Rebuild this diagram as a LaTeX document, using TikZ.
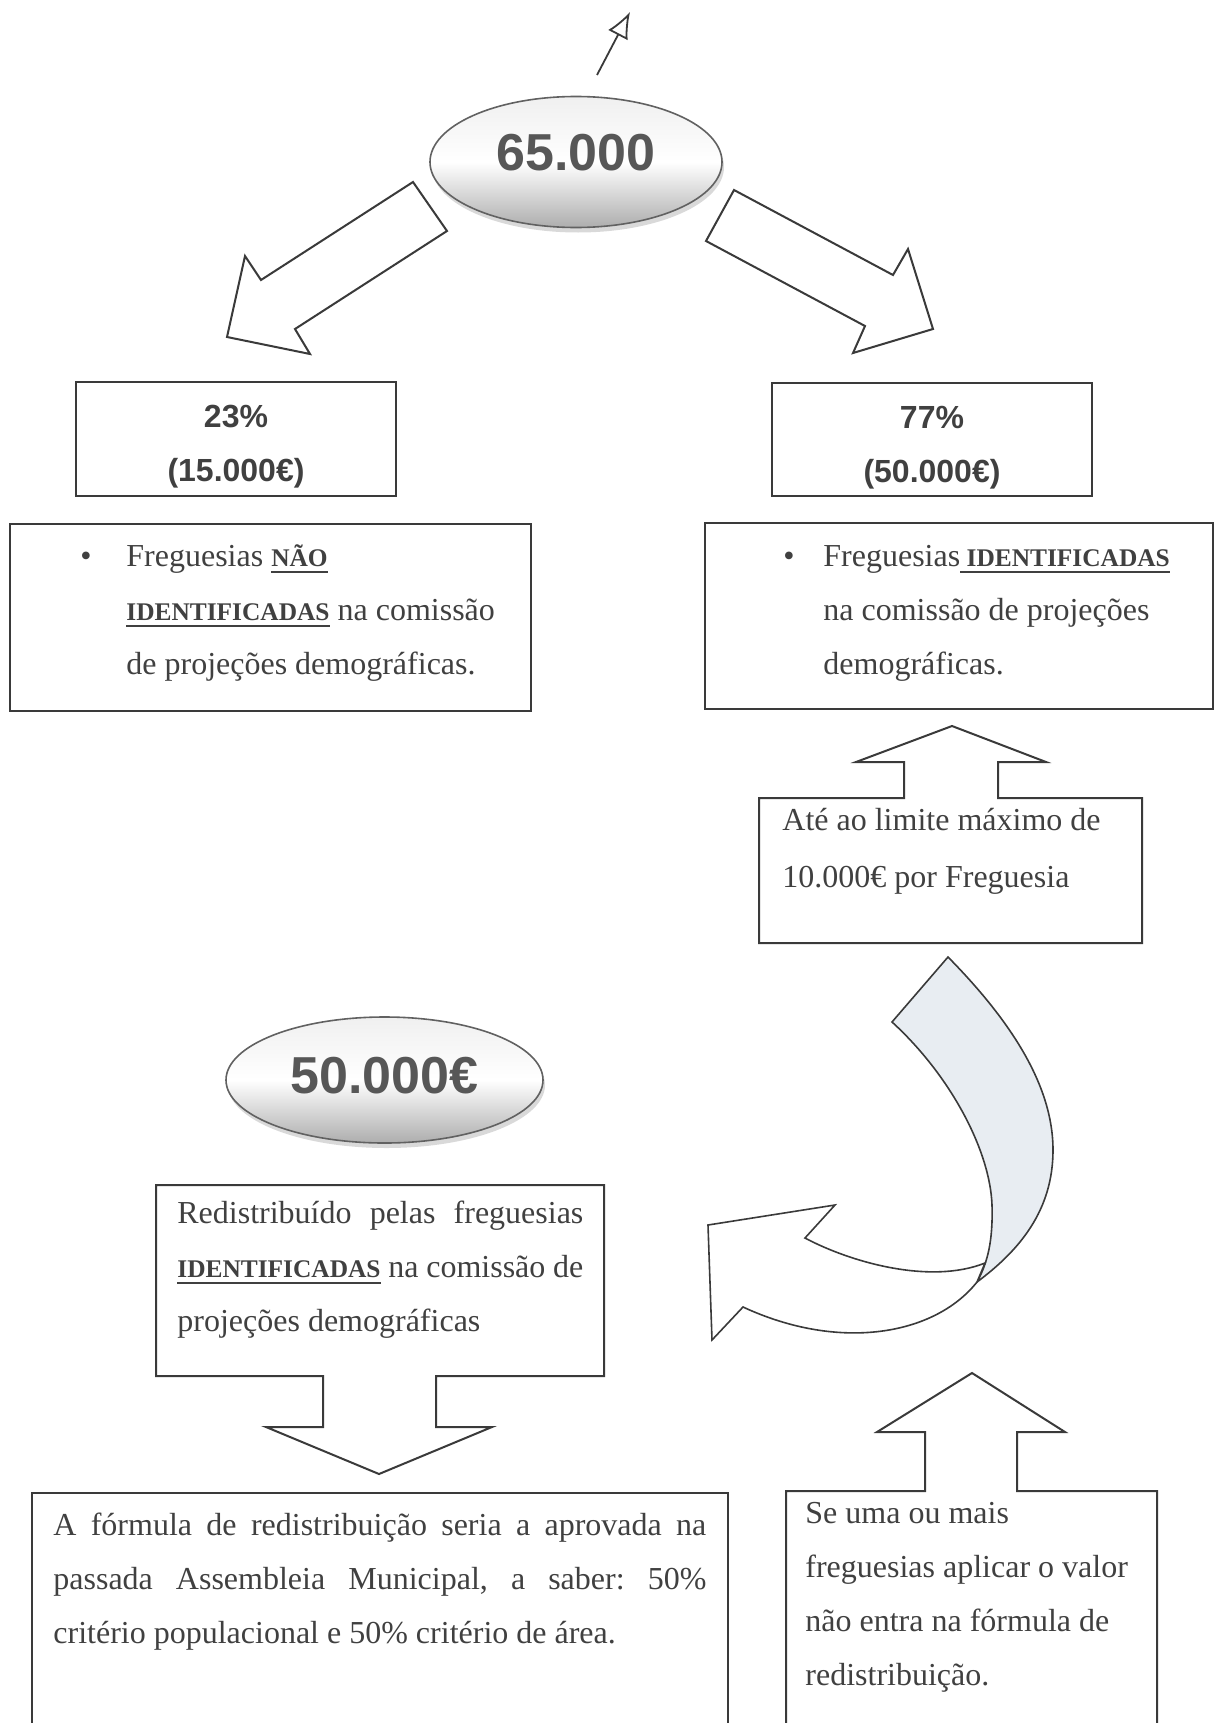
\documentclass[tikz,border=0pt]{standalone}
\usepackage{fontspec}
\setmainfont{Liberation Serif}
\setsansfont{Liberation Sans}
\usetikzlibrary{shapes.geometric,shadows,arrows.meta}

\definecolor{ink}{HTML}{404040}
\definecolor{lineink}{HTML}{3A3A3A}
\definecolor{ovalink}{HTML}{575757}
\definecolor{ribbonfill}{HTML}{E8EDF2}

\newsavebox\kwbox
\newcommand\undl[1]{\leavevmode\sbox\kwbox{#1}\rlap{\rule[-3.5pt]{\wd\kwbox}{1.2pt}}\usebox\kwbox}
\newcommand\keyword[1]{\undl{\fontsize{12.7}{27}\selectfont\bfseries #1}}
\newcommand\firstline{\spaceskip=0pt\xspaceskip=0pt\frenchspacing\strut}

\tikzset{
  shapeline/.style={draw=lineink, line width=1pt, line join=miter},
  panel/.style={draw=lineink, line width=1pt, inner sep=0pt},
  body/.style={anchor=north west, inner sep=0pt, text=ink, align=left, font=\fontsize{16}{27}\selectfont},
  sharebox/.style={panel, align=center, text=ink, font=\sffamily\bfseries\fontsize{16}{27}\selectfont},
  oval/.style={ellipse, draw=lineink!80, line width=0.8pt, inner sep=0pt,
    top color=black!6, bottom color=black!32, middle color=white,
    drop shadow={opacity=0.3, shadow xshift=1pt, shadow yshift=-2.5pt},
    text=ovalink, font=\sffamily\bfseries\fontsize{26}{30}\selectfont},
}

\begin{document}
\begin{tikzpicture}[x=0.5pt, y=-0.5pt]
    \useasboundingbox (0,0) rectangle (1215,1723);

    \coordinate (pen0) at (597,75);
    \coordinate (pen1) at (630,12);
    \draw[lineink, line width=0.9pt, -{Latex[open,length=13pt,width=11pt]}] (pen0) -- (pen1);

    \node[oval, minimum width=146pt, minimum height=65.5pt] (total) at (576,162) {65.000\rule[-10pt]{0pt}{1pt}};

    \draw[shapeline, fill=white] (413,182) -- (447,231) -- (295,329) -- (310,354) -- (227,337) -- (245,256) -- (261,280) -- cycle;
    \draw[shapeline, fill=white] (734,190) -- (893,275) -- (908,249) -- (933,329) -- (853,353) -- (865,326) -- (706,241) -- cycle;

    \node[sharebox, minimum width=160pt, minimum height=57pt] (low) at (236,439) {\strut 23\%\\(15.000€)};
    \node[sharebox, minimum width=160pt, minimum height=56.5pt] (high) at (932,439.5) {\strut 77\%\\(50.000€)};

    \node[panel, minimum width=260.5pt, minimum height=93.5pt] (notid) at (270.5,617.5) {};
    \node[body] (dotl) at (80,528.2) {\firstline•};
    \node[body, text width=200pt] (notidtext) at (126,528.2)
        {\firstline Freguesias \keyword{NÃO}\\\keyword{IDENTIFICADAS} na comissão\\de projeções demográficas.};

    \node[panel, minimum width=254pt, minimum height=93pt] (isid) at (959,616) {};
    \node[body] (dotr) at (783,528.2) {\firstline•};
    \node[body, text width=190pt] (isidtext) at (823,528.2)
        {\firstline Freguesias\keyword{\ IDENTIFICADAS}\\na comissão de projeções\\demográficas.};

    \draw[shapeline] (759,798) -- (904,798) -- (904,762) -- (856,762) -- (952,726) -- (1046,762) -- (998,762) -- (998,798)
        -- (1142,798) -- (1142,943) -- (759,943) -- cycle;
    \node[body, text width=175pt] (cap) at (782,792.2) {\firstline Até ao limite máximo de\\[1.5pt]10.000€ por Freguesia};

    \draw[shapeline, line width=0.8pt, fill=ribbonfill] (892,1022) -- (948,957)
        .. controls (1010,1020) and (1053,1085) .. (1053,1150)
        .. controls (1053,1210) and (1020,1250) .. (977,1282)
        .. controls (988,1262) and (993,1240) .. (992,1205)
        .. controls (990,1150) and (950,1075) .. (892,1022) -- cycle;
    \draw[shapeline, line width=0.8pt, fill=white] (985,1263) -- (977,1282)
        .. controls (935,1335) and (840,1352) .. (743,1307)
        -- (712,1340) -- (708,1225) -- (835,1205) -- (805,1238)
        .. controls (850,1262) and (930,1285) .. (985,1263) -- cycle;

    \node[oval, minimum width=158.5pt, minimum height=63pt] (rest) at (384.5,1080) {50.000€\rule[-5pt]{0pt}{1pt}};

    \draw[shapeline] (156,1185) -- (604,1185) -- (604,1376) -- (436,1376) -- (436,1427) -- (492,1427) -- (379,1474)
        -- (266,1427) -- (323,1427) -- (323,1376) -- (156,1376) -- cycle;
    \node[body, text width=205pt] (redist) at (177,1185.2)
        {\firstline\makebox[203pt][s]{Redistribuído pelas freguesias}\\\makebox[203pt][s]{\keyword{IDENTIFICADAS} na comissão de}\\projeções demográficas};

    \draw[shapeline] (32,1723) -- (32,1493) -- (728,1493) -- (728,1723);
    \node[body, text width=330pt] (formula) at (53,1497.2)
        {\firstline\makebox[326.5pt][s]{A fórmula de redistribuição seria a aprovada na}\\\makebox[326.5pt][s]{passada Assembleia Municipal, a saber: 50\%}\\critério populacional e 50\% critério de área.};

    \draw[shapeline] (786,1723) -- (786,1491) -- (925,1491) -- (925,1432) -- (877,1432) -- (972,1373) -- (1065,1432)
        -- (1017,1432) -- (1017,1491) -- (1157,1491) -- (1157,1723);
    \node[body, text width=170pt] (apply) at (805,1485.2)
        {\firstline Se uma ou mais\\freguesias aplicar o valor\\não entra na fórmula de\\redistribuição.};
\end{tikzpicture}
\end{document}
